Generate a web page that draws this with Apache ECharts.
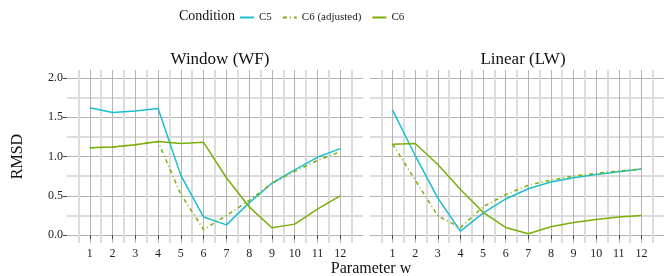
<!DOCTYPE html>
<html>
<head>
<meta charset="utf-8">
<script src="https://cdn.jsdelivr.net/npm/echarts@6/dist/echarts.min.js"></script>
<style>
  html, body { margin: 0; padding: 0; background: #fff; }
  #main { width: 664px; height: 276px; }
</style>
</head>
<body>
<div id="main"></div>
<script>
// parameter w (x)
const params = [1, 2, 3, 4, 5, 6, 7, 8, 9, 10, 11, 12];
const minorX = [0.5, 1.5, 2.5, 3.5, 4.5, 5.5, 6.5, 7.5, 8.5, 9.5, 10.5, 11.5, 12.5];
const majorY = [0, 0.5, 1, 1.5, 2];
const minorY = [0.25, 0.75, 1.25, 1.75];

// Window (WF)
const wfC5    = [1.62, 1.56, 1.58, 1.61, 0.76, 0.23, 0.13, 0.41, 0.66, 0.83, 0.99, 1.10];
const wfC6adj = [1.11, 1.12, 1.15, 1.19, 0.52, 0.07, 0.25, 0.44, 0.66, 0.81, 0.95, 1.06];
const wfC6    = [1.11, 1.12, 1.15, 1.19, 1.165, 1.18, 0.73, 0.36, 0.093, 0.14, 0.33, 0.50];

// Linear (LW)
const lwC5    = [1.59, 1.01, 0.47, 0.05, 0.28, 0.46, 0.59, 0.675, 0.73, 0.77, 0.805, 0.84];
const lwC6adj = [1.157, 0.70, 0.245, 0.095, 0.36, 0.515, 0.635, 0.70, 0.75, 0.785, 0.815, 0.84];
const lwC6    = [1.157, 1.165, 0.898, 0.58, 0.29, 0.098, 0.017, 0.106, 0.16, 0.20, 0.23, 0.25];

const cyan = '#1cbfcc';
const green = '#7aae08';
const font = 'Liberation Serif';

const pairs = arr => arr.map((v, i) => [params[i], v]);

const chart = echarts.init(document.getElementById('main'));

function xAxes(grid, showLabels) {
  return [
    {
      type: 'value', gridIndex: grid, min: 0, max: 13,
      axisLine: { show: false },
      axisTick: { show: true, customValues: params, length: 4, lineStyle: { color: '#444', width: 1 } },
      axisLabel: { show: showLabels, customValues: params, margin: 5, color: '#222', fontFamily: font, fontSize: 12 },
      splitLine: { show: true, lineStyle: { color: '#b4b4b4', width: 1 } }
    },
    {
      type: 'value', gridIndex: grid, min: 0, max: 13,
      axisLine: { show: false },
      axisTick: { show: false, customValues: minorX },
      axisLabel: { show: false, customValues: minorX },
      splitLine: { show: true, lineStyle: { color: '#dcdcdc', width: 2 } }
    }
  ];
}

function yAxes(grid, showLabels) {
  return [
    {
      type: 'value', gridIndex: grid, min: -0.1, max: 2.1,
      name: showLabels ? 'RMSD' : '',
      nameLocation: 'middle', nameGap: 41,
      nameTextStyle: { fontFamily: font, fontSize: 16, color: '#111' },
      axisLine: { show: false },
      axisTick: { show: showLabels, customValues: majorY, length: 4, lineStyle: { color: '#444', width: 1 } },
      axisLabel: { show: showLabels, customValues: majorY, margin: 4, color: '#222', fontFamily: font, fontSize: 12,
        formatter: v => v.toFixed(1) },
      splitLine: { show: true, lineStyle: { color: '#b4b4b4', width: 1 } }
    },
    {
      type: 'value', gridIndex: grid, min: -0.1, max: 2.1,
      axisLine: { show: false },
      axisTick: { show: false, customValues: minorY },
      axisLabel: { show: false, customValues: minorY },
      splitLine: { show: true, lineStyle: { color: '#dcdcdc', width: 2 } }
    }
  ];
}

function lineSeries(name, data, xi, yi, color, dashed) {
  return {
    name: name, type: 'line', xAxisIndex: xi, yAxisIndex: yi,
    data: pairs(data), symbol: 'none', animation: false,
    lineStyle: { color: color, width: 1.5, type: dashed ? [4, 3, 1, 3] : 'solid' },
    itemStyle: { color: color }
  };
}

chart.setOption({
  animation: false,
  title: [
    { text: 'Condition', left: 174, top: 4, textStyle: { fontFamily: font, fontSize: 14, fontWeight: 'normal', color: '#111' } },
    { text: 'Window (WF)', left: 215, top: 46, textAlign: 'center', textStyle: { fontFamily: font, fontSize: 17, fontWeight: 'normal', color: '#111' } },
    { text: 'Linear (LW)', left: 518, top: 46, textAlign: 'center', textStyle: { fontFamily: font, fontSize: 17, fontWeight: 'normal', color: '#111' } },
    { text: 'Parameter w', left: 366, top: 256, textAlign: 'center', textStyle: { fontFamily: font, fontSize: 16, fontWeight: 'normal', color: '#111' } }
  ],
  legend: {
    left: 234, top: 7,
    itemWidth: 14, itemHeight: 10, itemGap: 10,
    itemStyle: { opacity: 0 },
    textStyle: { fontFamily: font, fontSize: 11, color: '#222' },
    data: ['C5', 'C6 (adjusted)', 'C6']
  },
  grid: [
    { left: 67, top: 70, width: 296, height: 173 },
    { left: 370, top: 70, width: 296, height: 173 }
  ],
  xAxis: [...xAxes(0, true), ...xAxes(1, true)],
  yAxis: [...yAxes(0, true), ...yAxes(1, false)],
  series: [
    lineSeries('C5', wfC5, 0, 0, cyan, false),
    lineSeries('C6 (adjusted)', wfC6adj, 0, 0, green, true),
    lineSeries('C6', wfC6, 0, 0, green, false),
    lineSeries('C5', lwC5, 2, 2, cyan, false),
    lineSeries('C6 (adjusted)', lwC6adj, 2, 2, green, true),
    lineSeries('C6', lwC6, 2, 2, green, false)
  ]
});
</script>
</body>
</html>
